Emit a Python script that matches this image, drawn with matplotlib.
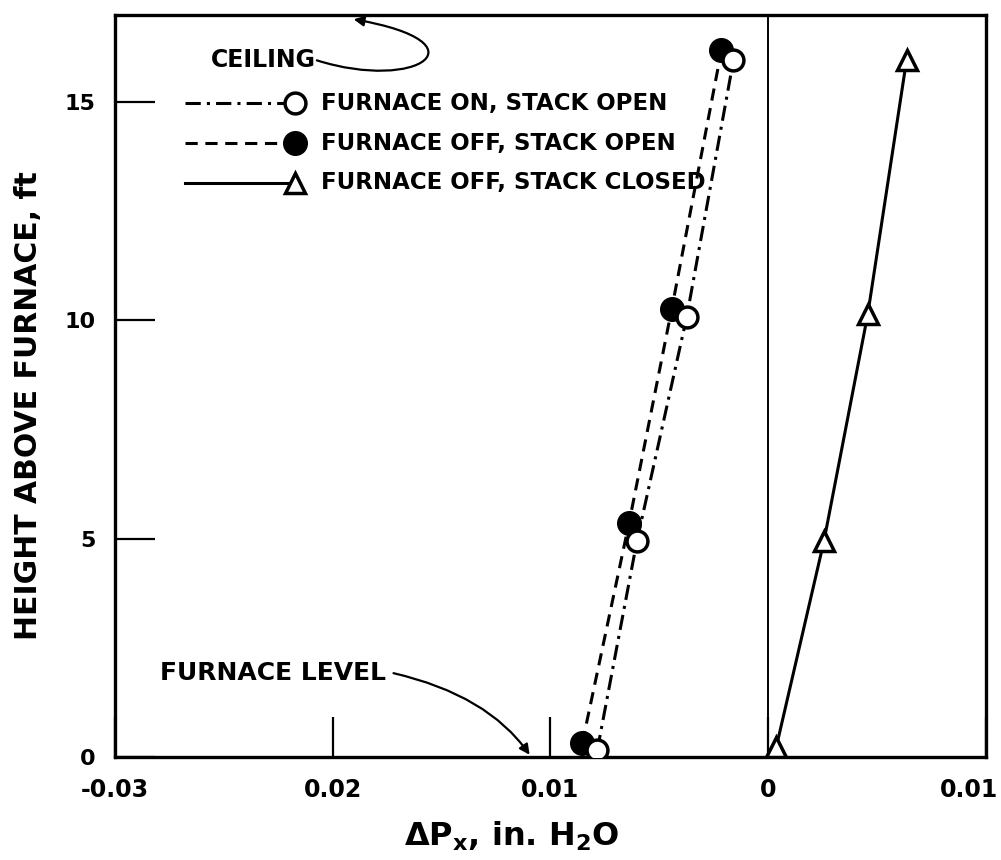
import matplotlib
matplotlib.use('Agg')
import matplotlib.pyplot as plt
import matplotlib.transforms as mtrans
from matplotlib.path import Path
from matplotlib.patches import FancyArrowPatch
from matplotlib.lines import Line2D

#data (height above furnace, ft  /  pressure difference, in. H2O)
on_open_x = [-0.00785, -0.00603, -0.00374, -0.0016]
on_open_y = [0.16, 4.95, 10.09, 15.96]

off_open_x = [-0.00854, -0.00639, -0.00443, -0.00215]
off_open_y = [0.32, 5.37, 10.27, 16.19]

off_closed_x = [0.00037, 0.00256, 0.00457, 0.00635]
off_closed_y = [0.23, 4.95, 10.14, 15.96]

labels = ['FURNACE ON, STACK OPEN', 'FURNACE OFF, STACK OPEN', 'FURNACE OFF, STACK CLOSED']

xticks = [-0.03, -0.02, -0.01, 0, 0.01]
xticklabels = ['-0.03', '0.02', '0.01', '0', '0.01']
yticks = [0, 5, 10, 15]

k = 'black'
lw = 2.2

fig = plt.figure(figsize=(10.01, 8.6), dpi=100)
ax = fig.add_axes([0.1149, 0.1198, 0.8701, 0.8628])

#vertical line at zero
ax.axvline(0, color=k, lw=1.4, zorder=1)

#plot data
ax.plot(off_open_x, off_open_y, ls='--', dashes=(4, 2.5), color=k, lw=lw,
        marker='o', ms=17, mfc=k, mec=k, zorder=3)
ax.plot(on_open_x, on_open_y, ls='-.', dashes=(5, 2, 1, 2), color=k, lw=lw,
        marker='o', ms=15, mfc='white', mec=k, mew=2.5, zorder=4)
ax.plot(off_closed_x, off_closed_y, ls='-', color=k, lw=lw,
        marker='^', ms=14, mfc='white', mec=k, mew=2.5, zorder=4)

ax.set_xlim(-0.03, 0.01)
ax.set_ylim(0, 17)

ax.set_xticks(xticks)
ax.set_xticklabels(xticklabels)
ax.set_yticks(yticks)
ax.tick_params(direction='in', length=29, width=1.6, labelsize=16, pad=14)
ax.tick_params(axis='x', pad=15, labelsize=17)
for t in ax.get_xticklabels() + ax.get_yticklabels():
    t.set_fontweight('bold')

#last x label sits inside the figure edge
last = ax.get_xticklabels()[-1]
last.set_horizontalalignment('right')
last.set_transform(last.get_transform() + mtrans.ScaledTranslation(12/100, 0, fig.dpi_scale_trans))

for s in ax.spines.values():
    s.set_linewidth(2.4)

ax.set_xlabel(r'$\mathbf{\Delta P_x}$, in. H$_\mathbf{2}$O', fontsize=23, fontweight='bold')
ax.xaxis.set_label_coords(0.455, -0.085)
ax.set_ylabel('HEIGHT ABOVE FURNACE, ft', fontsize=21.5, fontweight='bold')
ax.yaxis.set_label_coords(-0.083, 0.474)

#legend drawn by hand: line with the marker at its right end
styles = [dict(ls='-.', dashes=(5, 2, 1, 2), marker='o', ms=15, mfc='white', mew=2.5),
          dict(ls='--', dashes=(4, 2.5), marker='o', ms=17, mfc=k, mew=1),
          dict(ls='-', marker='^', ms=14, mfc='white', mew=2.5)]
rows = [0.881, 0.827, 0.774]
for lab, st, yy in zip(labels, styles, rows):
    ax.add_line(Line2D([0.08, 0.207], [yy, yy], transform=ax.transAxes,
                       color=k, lw=lw, mec=k, markevery=[1], **st))
    ax.text(0.237, yy, lab, transform=ax.transAxes, fontsize=16.5,
            fontweight='bold', va='center', ha='left')

#ceiling annotation
ax.text(-0.02076, 15.96, 'CEILING', fontsize=17, fontweight='bold', ha='right', va='center')
ceil = Path([(-0.02073, 15.96), (-0.01607, 15.23), (-0.01288, 16.37), (-0.01904, 16.9)],
            [Path.MOVETO, Path.CURVE4, Path.CURVE4, Path.CURVE4])
ax.add_patch(FancyArrowPatch(path=ceil, arrowstyle='-|>,head_length=6,head_width=3',
                             color=k, lw=1.6, zorder=5))

#furnace level annotation
ax.text(-0.01755, 1.92, 'FURNACE LEVEL', fontsize=18, fontweight='bold', ha='right', va='center')
flev = Path([(-0.01721, 1.92), (-0.01288, 1.42), (-0.01096, 0.05)],
            [Path.MOVETO, Path.CURVE3, Path.CURVE3])
ax.add_patch(FancyArrowPatch(path=flev, arrowstyle='-|>,head_length=6,head_width=3',
                             color=k, lw=1.6, zorder=5))

fig.savefig('out.png', dpi=100)
